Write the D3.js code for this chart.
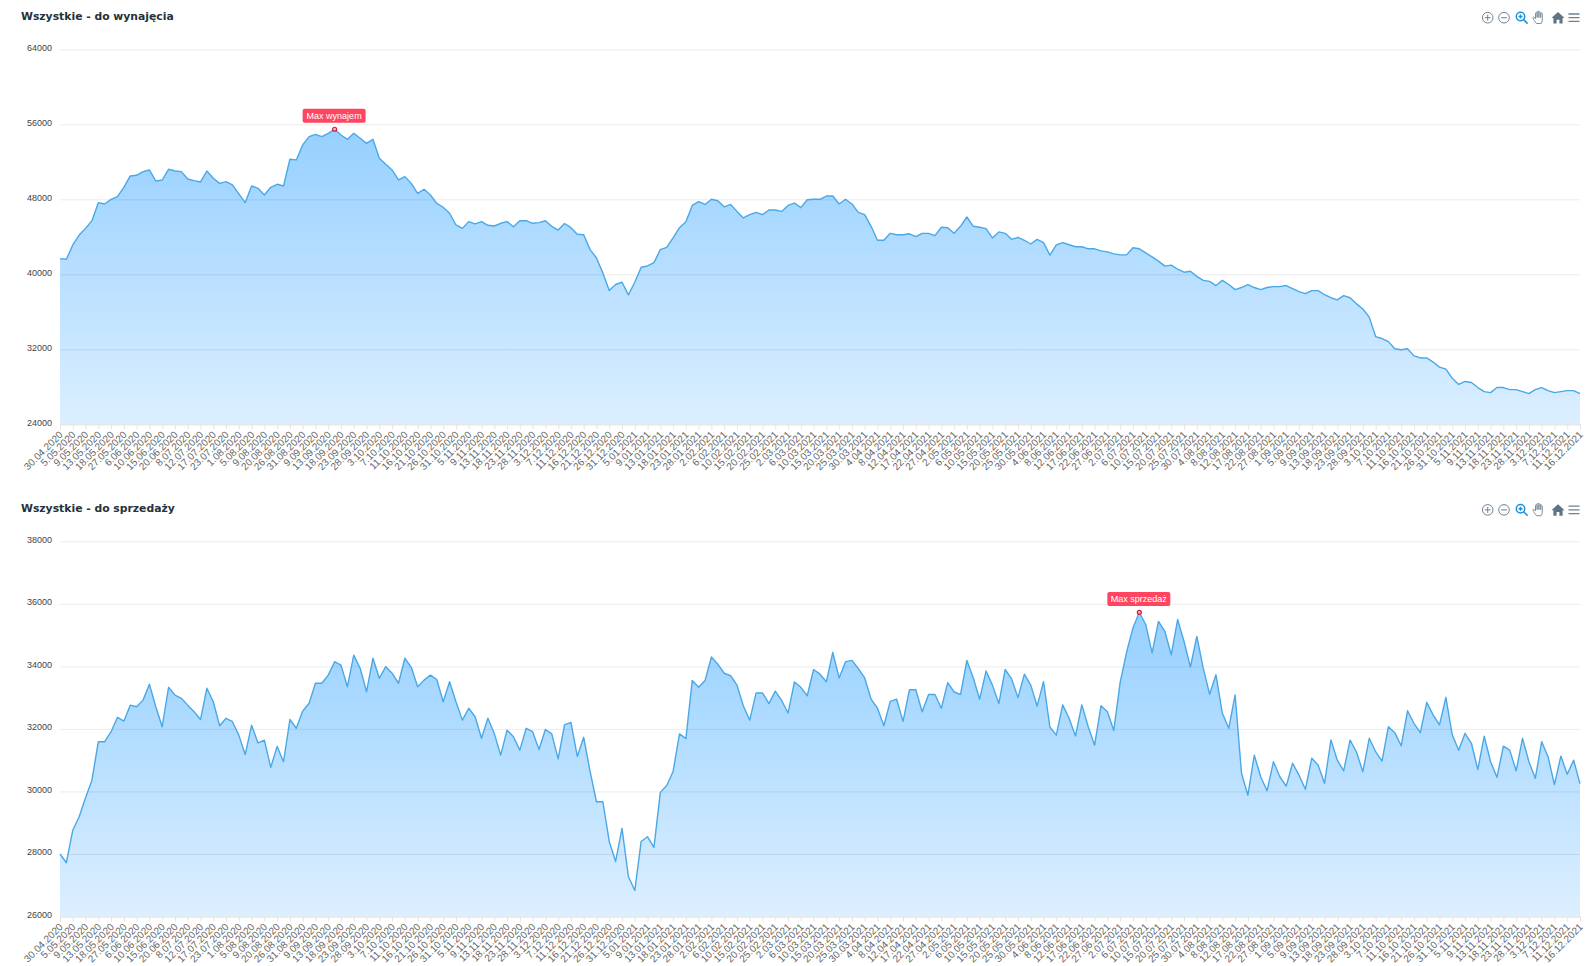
<!DOCTYPE html>
<html lang="pl">
<head>
<meta charset="utf-8">
<script src="https://cdn.jsdelivr.net/npm/d3@7"></script>
<style>
html,body{margin:0;padding:0;background:#fff;}
svg{display:block;}
text{font-family:"Liberation Sans",Arial,sans-serif;}
</style>
</head>
<body>
<svg id="c" width="1593" height="966"></svg>
<script>
const tickLabels = ["30.04.2020","5.05.2020","9.05.2020","13.05.2020","18.05.2020","27.05.2020","6.06.2020","10.06.2020","15.06.2020","20.06.2020","8.07.2020","12.07.2020","17.07.2020","23.07.2020","1.08.2020","5.08.2020","9.08.2020","20.08.2020","26.08.2020","31.08.2020","9.09.2020","13.09.2020","18.09.2020","23.09.2020","28.09.2020","3.10.2020","7.10.2020","11.10.2020","16.10.2020","21.10.2020","26.10.2020","31.10.2020","5.11.2020","9.11.2020","13.11.2020","18.11.2020","23.11.2020","28.11.2020","3.12.2020","7.12.2020","11.12.2020","16.12.2020","21.12.2020","26.12.2020","31.12.2020","5.01.2021","9.01.2021","13.01.2021","18.01.2021","23.01.2021","28.01.2021","2.02.2021","6.02.2021","10.02.2021","15.02.2021","20.02.2021","25.02.2021","2.03.2021","6.03.2021","10.03.2021","15.03.2021","20.03.2021","25.03.2021","30.03.2021","4.04.2021","8.04.2021","12.04.2021","17.04.2021","22.04.2021","27.04.2021","2.05.2021","6.05.2021","10.05.2021","15.05.2021","20.05.2021","25.05.2021","30.05.2021","4.06.2021","8.06.2021","12.06.2021","17.06.2021","22.06.2021","27.06.2021","2.07.2021","6.07.2021","10.07.2021","15.07.2021","20.07.2021","25.07.2021","30.07.2021","4.08.2021","8.08.2021","12.08.2021","17.08.2021","22.08.2021","27.08.2021","1.09.2021","5.09.2021","9.09.2021","13.09.2021","18.09.2021","23.09.2021","28.09.2021","3.10.2021","7.10.2021","11.10.2021","16.10.2021","21.10.2021","26.10.2021","31.10.2021","5.11.2021","9.11.2021","13.11.2021","18.11.2021","23.11.2021","28.11.2021","3.12.2021","7.12.2021","11.12.2021","16.12.2021"];

// Two readings per tick interval
const rentValues = [
41670,41600,43130,44190,44900,45720,47640,47500,48000,48280,
49280,50490,50560,50950,51130,49950,50060,51200,51020,50950,
50170,49990,49850,51020,50240,49700,49880,49530,48570,47650,
49420,49170,48460,49280,49600,49420,52270,52200,53800,54680,
54930,54680,55040,55470,54860,54400,55040,54510,53970,54400,
52370,51730,51130,50060,50420,49700,48640,49070,48460,47570,
47150,46510,45260,44900,45620,45370,45620,45230,45150,45440,
45620,45080,45720,45720,45440,45510,
45710,45120,44720,45420,44970,44270,44220,42630,41740,40150,
38260,38910,39150,37810,39150,40750,40890,41240,42630,42880,
43880,44970,45610,47350,47750,47450,48000,47850,47200,47450,
46710,46010,46360,46610,46360,46860,46860,46710,47350,47600,
47110,47950,48000,48000,48350,48350,47500,48000,47500,46610,
46360,45120,43630,43630,44370,44220,44220,44320,44020,44370,
44370,44120,45020,44970,44370,45120,46110,45120,45020,44870,
43880,44520,44370,43730,43930,43630,43230,43730,43380,42040,43130,
43370,43150,42940,42940,42720,42720,42500,42390,42180,42070,
42070,42830,42720,42280,41850,41410,40870,40980,40540,40220,
40330,39780,39350,39240,38800,39350,38910,38370,38590,38910,
38590,38370,38590,38690,38690,38800,38480,38150,37930,38260,
38260,37820,37500,37280,37720,37500,36850,36300,35430,33360,
33150,32820,32060,31950,32060,31300,31080,31080,30640,30100,
29880,28900,28250,28570,28460,27920,27490,27380,27920,27920,
27700,27700,27490,27270,27700,27920,27590,27380,27490,27590,
27590,27270];

const saleValues = [
28000,27720,28760,29190,29800,30360,31590,31590,31910,32370,
32250,32760,32710,32920,33430,32710,32070,33330,33080,32980,
32760,32550,32300,33300,32870,32100,32340,32230,31800,31180,
32120,31550,31640,30770,31440,30950,32300,32020,32570,32820,
33460,33460,33720,34150,34040,33350,34360,33940,33190,34260,
33620,33990,33780,33460,34260,33970,33350,33560,33720,33580,
32870,33510,32870,32280,32660,32390,31700,32340,31850,31160,
31960,31750,31320,32020,31910,31340,
31980,31840,31040,32130,32210,31120,31730,30640,29670,29670,
28400,27760,28820,27280,26830,28400,28550,28210,29970,30190,
30640,31840,31690,33550,33330,33550,34300,34070,33780,33700,
33400,32730,32280,33150,33150,32810,33210,32910,32510,33500,
33330,33060,33900,33750,33510,34450,33630,34150,34190,33930,
33630,32950,32660,32100,32880,32950,32240,33250,33250,32550,
33100,33100,32660,33480,33180,33100,34190,33630,32950,33850,
33400,32810,33900,33600,33000,33750,33400,32730,33510,32060,31800,
32770,32340,31770,32770,32070,31480,32740,32550,31950,33490,
34450,35230,35730,35340,34430,35440,35120,34370,35500,34800,
33980,34960,33950,33110,33730,32500,32020,33090,30580,29880,
31160,30470,30020,30950,30470,30170,30900,30520,30070,31060,
30840,30260,31650,31000,30660,31640,31260,30630,31700,31270,
30970,32070,31880,31460,32580,32180,31880,32850,32450,32130,
33010,31810,31320,31860,31540,30700,31770,30950,30450,31450,
31320,30660,31700,30950,30420,31590,31110,30220,31130,30550,
31000,30250];

const rentTicks = [24000,32000,40000,48000,56000,64000];
const saleTicks = [26000,28000,30000,32000,34000,36000,38000];

const charts = [
  {id:"rent", title:"Wszystkie - do wynajęcia", note:"Max wynajem", values:rentValues, ticks:rentTicks, top:49.3, bottom:424.3, offset:0},
  {id:"sale", title:"Wszystkie - do sprzedaży", note:"Max sprzedaż", values:saleValues, ticks:saleTicks, top:541.3, bottom:916.5, offset:492.2}
];

const left = 60, right = 1580;
const svg = d3.select("#c");
const defs = svg.append("defs");

charts.forEach(ch => {
  const g = svg.append("g").attr("id", ch.id);
  const y = d3.scaleLinear().domain(d3.extent(ch.ticks)).range([ch.bottom, ch.top]);
  const x = d3.scaleLinear().domain([0, ch.values.length - 1]).range([left, right]);
  const xt = d3.scalePoint().domain(tickLabels).range([left, right]);

  const grad = defs.append("linearGradient").attr("id", "grad-" + ch.id)
    .attr("x1", 0).attr("x2", 0).attr("y1", 0).attr("y2", 1);
  grad.append("stop").attr("offset", "0%").attr("stop-color", "#96d0ff");
  grad.append("stop").attr("offset", "100%").attr("stop-color", "#dcefff");

  g.append("path").datum(ch.values)
    .attr("d", d3.area().x((d,i)=>x(i)).y0(ch.bottom).y1(d=>y(d)))
    .attr("fill", `url(#grad-${ch.id})`);

  // horizontal grid + y labels
  g.append("g").call(d3.axisLeft(y).tickValues(ch.ticks).tickSize(-(right-left)).tickFormat(d3.format("d")))
    .call(a => a.select(".domain").remove())
    .call(a => a.selectAll("line").attr("stroke", "#000").attr("stroke-opacity", 0.08))
    .call(a => a.selectAll("text").attr("x", -8).attr("dy", "0.08em").attr("fill", "#444").style("font-size", "9px"))
    .attr("transform", `translate(${left},0)`);

  g.append("path").datum(ch.values)
    .attr("d", d3.line().x((d,i)=>x(i)).y(d=>y(d)))
    .attr("fill", "none").attr("stroke", "#4aa8e6").attr("stroke-width", 1.4).attr("stroke-linejoin", "round");

  // x axis
  g.append("g").attr("transform", `translate(0,${ch.bottom})`)
    .call(d3.axisBottom(xt).tickSize(5).tickPadding(2))
    .call(a => a.select(".domain").attr("stroke", "#e4e4e4"))
    .call(a => a.selectAll("line").attr("stroke", "#e4e4e4"))
    .call(a => a.selectAll("text")
      .attr("text-anchor", "end").attr("fill", "#666").style("font-size", "10px")
      .attr("x", 0).attr("y", 0).attr("dy", 0)
      .attr("transform", "translate(3,11) rotate(-45)"));

  // title
  g.append("text").text(ch.title).attr("x", 21).attr("y", 20 + ch.offset)
    .style("font-family", '"DejaVu Sans",sans-serif').style("font-weight", 700).style("font-size", "10.8px")
    .attr("fill", "#263238");

  // annotation on the maximum
  const mi = d3.maxIndex(ch.values);
  const mx = x(mi), my = y(ch.values[mi]);
  const ann = g.append("g");
  ann.append("rect").attr("x", mx - 32).attr("y", my - 20.4).attr("width", 63).attr("height", 14).attr("rx", 2)
    .attr("fill", "#ff4560");
  ann.append("text").text(ch.note).attr("x", mx - 0.5).attr("y", my - 10.2).attr("text-anchor", "middle")
    .attr("fill", "#fff").style("font-size", "9px");
  ann.append("circle").attr("cx", mx).attr("cy", my).attr("r", 2).attr("fill", "#ffb3bf").attr("stroke", "#d3173a").attr("stroke-width", 1.2);

  // toolbar
  const tb = g.append("g").attr("transform", `translate(0,${ch.offset})`)
    .attr("fill", "none").attr("stroke", "#6e8192").attr("stroke-width", 1);
  tb.append("circle").attr("cx", 1487.7).attr("cy", 17.7).attr("r", 5.3);
  tb.append("path").attr("d", "M1484.7 17.7h6M1487.7 14.7v6");
  tb.append("circle").attr("cx", 1504).attr("cy", 17.7).attr("r", 5.3);
  tb.append("path").attr("d", "M1501 17.7h6");
  const mag = tb.append("g").attr("stroke", "#1f8fd6").attr("stroke-width", 1.5);
  mag.append("circle").attr("cx", 1520.5).attr("cy", 16.5).attr("r", 4.2);
  mag.append("path").attr("d", "M1523.6 19.6l4 4M1518.5 16.5h4M1520.5 14.5v4");
  tb.append("path").attr("stroke", "#7f8f9c")
    .attr("d", "M1536.5 23.5c-1.5-2-3-4-3.6-5.5-.1-1 1-1.2 1.8-.2l.8 1V13.3c0-1.2 1.5-1.2 1.6 0V17.5V12c0-1.3 1.7-1.3 1.8 0v5.5V12.6c0-1.2 1.7-1.2 1.8 0v5V13.8c.1-1 1.6-1 1.6.2V20c0 1.5-.6 2.5-1.2 3.5z");
  tb.append("path").attr("fill", "#5f7384").attr("stroke", "none")
    .attr("d", "M1558 12l6.5 6h-1.9v5.5h-3.2v-3.8h-2.8v3.8h-3.2V18h-1.9z");
  tb.append("path").attr("stroke", "#6e8192").attr("stroke-width", 1.3).attr("d", "M1568.5 14h11M1568.5 17.7h11M1568.5 21.4h11");
});
</script>
</body>
</html>
